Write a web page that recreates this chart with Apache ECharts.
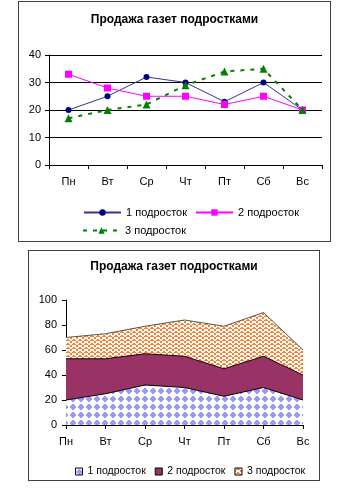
<!DOCTYPE html>
<html>
<head>
<meta charset="utf-8">
<script src="https://cdn.jsdelivr.net/npm/echarts@6/dist/echarts.min.js"></script>
<style>
  body { margin: 0; background: #fff; }
  .box { position: absolute; border: 1px solid #404040; background: #fff; }
  #c1 { left: 18px; top: 1px; width: 311px; height: 239px; }
  #c2 { left: 28px; top: 250px; width: 290px; height: 229px; }
</style>
</head>
<body>
<div id="c1" class="box"></div>
<div id="c2" class="box"></div>
<script>
const TITLE = 'Продажа газет подростками'
const DAYS = ['Пн', 'Вт', 'Ср', 'Чт', 'Пт', 'Сб', 'Вс']
const NAMES = ['1 подросток', '2 подросток', '3 подросток']
const teen1 = [20, 25, 32, 30, 23, 30, 20]
const teen2 = [33, 28, 25, 25, 22, 25, 20]
const teen3 = [17, 20, 22, 29, 34, 35, 20]

const FONT = 'Liberation Sans, Arial, sans-serif'

// узоры заливки как в Excel (попиксельно)
function tile(w, h, color, pixels) {
  const c = document.createElement('canvas')
  c.width = w; c.height = h
  const g = c.getContext('2d')
  g.fillStyle = '#fff'; g.fillRect(0, 0, w, h)
  g.fillStyle = color
  pixels.forEach(([x, y, len]) => g.fillRect(x, y, len, 1))
  return c
}
// ромбики
const pat1 = {
  image: tile(8, 8, '#9999ff', [[3, 1, 2], [2, 2, 4], [1, 3, 6], [1, 4, 6], [2, 5, 4], [3, 6, 2]]),
  repeat: 'repeat'
}
// зигзаг
const pat3 = {
  image: tile(6, 4, '#ff7f2a', [[2, 0, 2], [1, 1, 4], [0, 2, 1], [5, 2, 1], [0, 3, 1], [5, 3, 1]]),
  repeat: 'repeat'
}

const axisLine = { show: true, lineStyle: { color: '#000', width: 1 } }
const axisTick = { show: true, length: 4, lineStyle: { color: '#000' } }
const labelStyle = { color: '#000', fontSize: 11, fontFamily: FONT }
const titleStyle = { fontSize: 12, fontWeight: 'bold', color: '#000', fontFamily: FONT }

// верхний график — линии
const chart1 = echarts.init(document.getElementById('c1'))
chart1.setOption({
  animation: false,
  backgroundColor: '#fff',
  title: { text: TITLE, left: 'center', top: 12, padding: 0, textStyle: titleStyle },
  grid: { left: 30, top: 53, width: 273, height: 110 },
  legend: [
    {
      data: [NAMES[0], NAMES[1]], left: 64, top: 205, padding: 0,
      itemWidth: 37, itemHeight: 8, itemGap: 8,
      textStyle: labelStyle
    },
    {
      data: [NAMES[2]], left: 63, top: 223, padding: 0,
      itemWidth: 37, itemHeight: 8,
      textStyle: labelStyle
    }
  ],
  xAxis: {
    type: 'category', data: DAYS, boundaryGap: true,
    axisLine, axisTick,
    axisLabel: { ...labelStyle, margin: 11 }
  },
  yAxis: {
    type: 'value', min: 0, max: 40, interval: 10,
    axisLine, axisTick,
    axisLabel: { ...labelStyle, margin: 8 },
    splitLine: { lineStyle: { color: '#000', width: 1 } }
  },
  series: [
    {
      name: NAMES[0], type: 'line', data: teen1,
      symbol: 'circle', symbolSize: 6,
      lineStyle: { color: '#33339a', width: 1 },
      itemStyle: { color: '#000080' }
    },
    {
      name: NAMES[1], type: 'line', data: teen2,
      symbol: 'rect', symbolSize: 7,
      lineStyle: { color: '#ff00ff', width: 1 },
      itemStyle: { color: '#ff00ff' }
    },
    {
      name: NAMES[2], type: 'line', data: teen3,
      symbol: 'triangle', symbolSize: 8,
      lineStyle: { color: '#008000', width: 2, type: [4, 6] },
      itemStyle: { color: '#008000' }
    }
  ]
})

// нижний график — области с накоплением
const chart2 = echarts.init(document.getElementById('c2'))
const areaLegendStyle = [pat1, '#993366', pat3]
chart2.setOption({
  animation: false,
  backgroundColor: '#fff',
  title: { text: TITLE, left: 'center', top: 10, padding: 0, textStyle: titleStyle },
  grid: { left: 37, top: 49, width: 237, height: 125 },
  legend: {
    data: NAMES.map((n, i) => ({
      name: n, icon: 'rect',
      itemStyle: { color: areaLegendStyle[i], borderColor: '#000', borderWidth: 1 }
    })),
    left: 46, top: 215, width: 280, padding: 0,
    itemWidth: 7, itemHeight: 7, itemGap: 9,
    textStyle: { ...labelStyle, fontSize: 10.5 }
  },
  xAxis: {
    type: 'category', data: DAYS, boundaryGap: false,
    axisLine, axisTick,
    axisLabel: { ...labelStyle, margin: 11 }
  },
  yAxis: {
    type: 'value', min: 0, max: 100, interval: 20,
    axisLine, axisTick,
    axisLabel: { ...labelStyle, margin: 9 },
    splitLine: { show: false }
  },
  series: [
    {
      name: NAMES[0], type: 'line', stack: 'total', data: teen1,
      symbol: 'none', lineStyle: { color: '#000', width: 1 },
      itemStyle: { color: '#9999ff' },
      areaStyle: { color: pat1, opacity: 1 }
    },
    {
      name: NAMES[1], type: 'line', stack: 'total', data: teen2,
      symbol: 'none', lineStyle: { color: '#000', width: 1 },
      itemStyle: { color: '#993366' },
      areaStyle: { color: '#993366', opacity: 1 }
    },
    {
      name: NAMES[2], type: 'line', stack: 'total', data: teen3,
      symbol: 'none', lineStyle: { color: '#555', width: 1 },
      itemStyle: { color: '#ff7f2a' },
      areaStyle: { color: pat3, opacity: 1 }
    }
  ]
})
</script>
</body>
</html>
